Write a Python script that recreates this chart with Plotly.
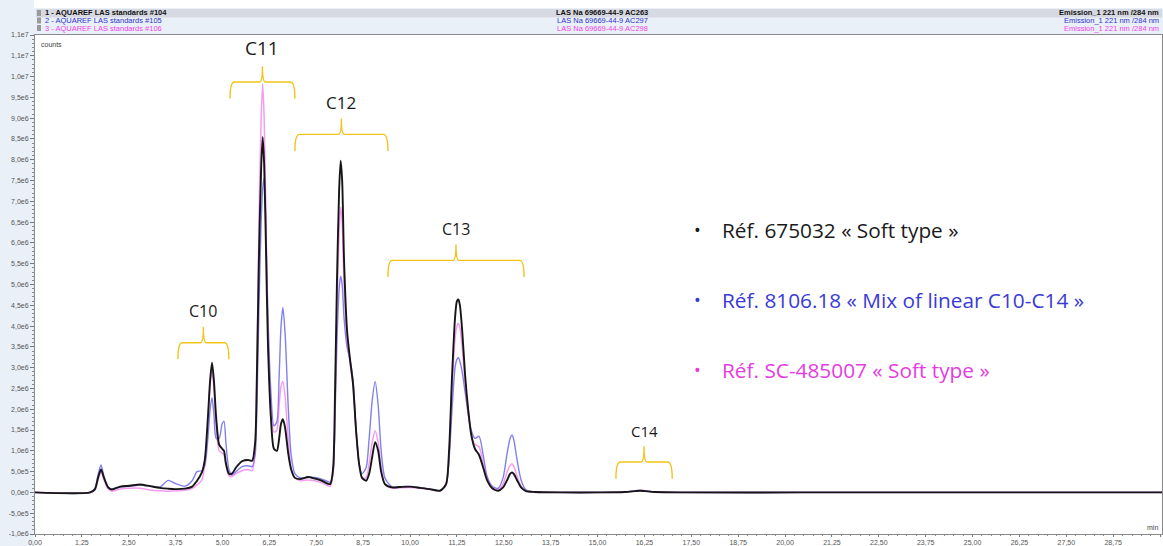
import numpy as np
import plotly.graph_objects as go

# Retention time (min) of the sampled chromatogram points
time_min = [0.00, 1.47, 1.60, 1.68, 1.76, 1.84, 1.95, 2.05, 2.27, 2.53, 2.80, 3.07, 3.33, 3.55, 3.73,
            4.00, 4.19, 4.32, 4.45, 4.53, 4.61, 4.67, 4.72, 4.77, 4.83, 4.91, 4.99, 5.04, 5.09, 5.17,
            5.25, 5.36, 5.52, 5.68, 5.79, 5.87, 5.92, 5.97, 6.03, 6.07, 6.11, 6.16, 6.21, 6.29, 6.37,
            6.45, 6.51, 6.56, 6.61, 6.67, 6.75, 6.83, 6.93, 7.07, 7.28, 7.47, 7.65, 7.87, 7.95, 8.00,
            8.05, 8.11, 8.15, 8.19, 8.24, 8.32, 8.40, 8.48, 8.56, 8.64, 8.72, 8.83, 8.91, 8.99, 9.07,
            9.15, 9.23, 9.33, 9.52, 9.73, 10.00, 10.27, 10.53, 10.80, 10.96, 11.04, 11.12, 11.20, 11.25,
            11.29, 11.33, 11.39, 11.47, 11.55, 11.63, 11.73, 11.84, 11.95, 12.05, 12.19, 12.35, 12.48,
            12.59, 12.67, 12.72, 12.77, 12.85, 12.96, 13.09, 13.33, 14.00, 15.07, 15.73, 16.00, 16.13,
            16.27, 16.53, 17.20, 20.40, 30.05]

# Signal in 1e6 counts, one list per injection
signal_104 = [0.00, 0.00, 0.08, 0.35, 0.55, 0.35, 0.12, 0.07, 0.14, 0.16, 0.19, 0.15, 0.11, 0.09, 0.08,
              0.09, 0.14, 0.28, 0.48, 0.80, 1.80, 2.70, 3.12, 2.70, 1.80, 1.15, 1.05, 1.00, 0.70, 0.45,
              0.45, 0.60, 0.75, 0.78, 0.76, 1.20, 3.00, 5.60, 7.80, 8.55, 7.90, 5.80, 3.60, 1.80, 1.05,
              1.00, 1.30, 1.65, 1.76, 1.55, 0.95, 0.55, 0.35, 0.32, 0.37, 0.33, 0.28, 0.20, 0.60, 2.40,
              5.00, 7.30, 7.98, 7.50, 5.60, 3.90, 3.20, 2.60, 1.50, 0.70, 0.35, 0.28, 0.45, 0.85, 1.21,
              1.00, 0.50, 0.20, 0.12, 0.13, 0.14, 0.11, 0.08, 0.04, 0.20, 1.00, 2.80, 4.20, 4.60,
              4.64, 4.50, 3.90, 2.80, 2.00, 1.40, 1.05, 0.90, 0.60, 0.30, 0.10, 0.04, 0.12,
              0.30, 0.45, 0.48, 0.44, 0.30, 0.12, 0.03, 0.01, 0.00, 0.00, 0.01, 0.03, 0.04,
              0.03, 0.01, 0.00, 0.00, 0.00]

signal_105 = [0.00, 0.00, 0.10, 0.42, 0.66, 0.38, 0.13, 0.08, 0.13, 0.15, 0.18, 0.15, 0.13, 0.29, 0.22,
              0.15, 0.28, 0.50, 0.52, 0.65, 1.30, 2.00, 2.28, 1.90, 1.30, 1.30, 1.65, 1.71, 1.20, 0.55,
              0.42, 0.50, 0.62, 0.64, 0.62, 0.90, 2.20, 4.40, 6.50, 7.30, 7.55, 6.20, 4.30, 2.40, 1.60,
              1.70, 2.80, 4.00, 4.45, 3.80, 2.10, 0.90, 0.45, 0.35, 0.36, 0.36, 0.32, 0.25, 0.50, 1.80,
              3.60, 4.90, 5.20, 5.00, 4.20, 3.50, 3.20, 2.70, 1.50, 0.70, 0.45, 0.60, 1.30, 2.20, 2.67,
              2.10, 1.00, 0.35, 0.13, 0.14, 0.14, 0.11, 0.08, 0.05, 0.18, 0.80, 2.00, 3.00, 3.20,
              3.24, 3.15, 2.90, 2.40, 1.90, 1.50, 1.30, 1.35, 0.90, 0.40, 0.15, 0.10, 0.35,
              0.95, 1.30, 1.38, 1.25, 0.80, 0.30, 0.06, 0.01, 0.00, 0.00, 0.01, 0.04, 0.05,
              0.04, 0.01, 0.00, 0.00, 0.00]

signal_106 = [0.00, 0.00, 0.06, 0.30, 0.50, 0.30, 0.08, 0.03, 0.08, 0.10, 0.10, 0.06, 0.04, 0.03, 0.04,
              0.05, 0.10, 0.18, 0.30, 0.70, 1.70, 2.60, 2.95, 2.50, 1.60, 1.00, 0.95, 0.90, 0.65, 0.40,
              0.38, 0.45, 0.52, 0.55, 0.52, 1.10, 3.20, 6.40, 9.00, 9.83, 9.00, 6.50, 3.90, 2.00, 1.45,
              1.50, 2.10, 2.55, 2.67, 2.30, 1.30, 0.60, 0.35, 0.28, 0.30, 0.28, 0.23, 0.15, 0.50, 2.00,
              4.30, 6.30, 6.86, 6.50, 5.00, 3.70, 3.10, 2.60, 1.50, 0.70, 0.35, 0.35, 0.70, 1.20, 1.48,
              1.20, 0.60, 0.20, 0.10, 0.11, 0.12, 0.10, 0.07, 0.04, 0.20, 0.90, 2.50, 3.70, 4.00,
              4.07, 3.95, 3.50, 2.60, 1.90, 1.40, 1.15, 1.10, 0.70, 0.35, 0.12, 0.06, 0.20,
              0.50, 0.65, 0.69, 0.62, 0.40, 0.15, 0.04, 0.01, 0.00, 0.00, 0.01, 0.04, 0.05,
              0.04, 0.01, 0.00, 0.00, 0.00]

injection_names = ["1 - AQUAREF LAS standards #104",
                   "2 - AQUAREF LAS standards #105",
                   "3 - AQUAREF LAS standards #106"]
injection_ids = ["LAS Na 69669-44-9 AC263",
                 "LAS Na 69669-44-9 AC297",
                 "LAS Na 69669-44-9 AC298"]
channel_name = "Emission_1 221 nm /284 nm"

reference_labels = ["Réf. 675032 « Soft type »",
                    "Réf. 8106.18 « Mix of linear C10-C14 »",
                    "Réf. SC-485007 « Soft type »"]

# Homologue groups marked with braces
homologue_labels = ["C10", "C11", "C12", "C13", "C14"]
brace_start = [3.81, 5.20, 6.93, 9.41, 15.49]
brace_end = [5.17, 6.93, 9.41, 13.04, 16.99]
brace_level = [3.60e6, 9.87e6, 8.61e6, 5.58e6, 0.73e6]
brace_font = [16, 19, 17, 16, 15]

# ---------------------------------------------------------------- layout geometry
W, H = 1163, 546
ML, MR, MT, MB = 35, 1, 35, 12
PW, PH = W - ML - MR, H - MT - MB


def px(x):
    return (x - ML) / PW


def py(y):
    return (H - MB - y) / PH


COL_104 = "#161616"
COL_105 = "rgba(70,70,225,0.68)"
COL_106 = "rgba(238,90,232,0.60)"
TXT_105 = "#3a3ad8"
TXT_106 = "#e43ce0"
BRACE = "#f2c31a"

t = np.array(time_min)
fig = go.Figure()
for vals, col, w, name in [(signal_105, COL_105, 1.4, injection_names[1]),
                           (signal_106, COL_106, 1.5, injection_names[2]),
                           (signal_104, COL_104, 1.9, injection_names[0])]:
    fig.add_trace(go.Scatter(x=t, y=np.array(vals) * 1e6, mode="lines", name=name,
                             line=dict(color=col, width=w, shape="spline", smoothing=0.7),
                             hoverinfo="skip"))

# y ticks every 5e5 in the instrument's comma notation
yvals = np.arange(-1.0e6, 1.1e7 + 1, 5e5)


def sci_label(v):
    if abs(v) < 1:
        return "0,0e0"
    e = int(np.floor(np.log10(abs(v))))
    m = v / 10 ** e
    return f"{m:.1f}e{e}".replace(".", ",")


ytext = [sci_label(v) for v in yvals]

xvals = np.arange(0, 30.01, 1.25)
xtext = [f"{v:.2f}".replace(".", ",") for v in xvals]

axis_font = dict(family="Liberation Sans, Arial, sans-serif", size=7, color="#555555")
fig.update_layout(
    width=W, height=H,
    margin=dict(l=ML, r=MR, t=MT, b=MB, pad=0, autoexpand=False),
    paper_bgcolor="white", plot_bgcolor="white",
    showlegend=False,
    xaxis=dict(range=[0, 30.05], tickvals=xvals, ticktext=xtext, ticks="outside", ticklen=2,
               tickcolor="#777777", tickfont=axis_font, showgrid=False, zeroline=False,
               showline=True, linecolor="#8a8a8a", linewidth=1, mirror=True, automargin=False,
               minor=dict(dtick=0.25, ticklen=1, ticks="outside", tickcolor="#888888")),
    yaxis=dict(range=[-1.0e6, 1.1e7], tickvals=yvals, ticktext=ytext, ticks="outside", ticklen=4,
               tickcolor="#777777", tickfont=axis_font, showgrid=False, zeroline=False,
               showline=True, linecolor="#8a8a8a", linewidth=1, mirror=True, automargin=False,
               minor=dict(dtick=1e5, ticklen=2, ticks="outside", tickcolor="#888888")),
)

shapes = []
# light panel behind the y labels and the run header
shapes.append(dict(type="rect", xref="paper", yref="paper", x0=px(0), x1=px(ML - 1),
                   y0=py(H), y1=py(0), fillcolor="#eaf0f8", line_width=0, layer="below"))
shapes.append(dict(type="rect", xref="paper", yref="paper", x0=px(0), x1=px(W),
                   y0=py(MT), y1=py(8), fillcolor="#eaf0f8", line_width=0, layer="below"))
shapes.append(dict(type="rect", xref="paper", yref="paper", x0=px(36), x1=px(1162),
                   y0=py(17.5), y1=py(9), fillcolor="#d7d9e2", line_width=0, layer="below"))
for k in range(3):
    yc = 13 + 7.5 * k
    shapes.append(dict(type="rect", xref="paper", yref="paper", x0=px(37), x1=px(41),
                       y0=py(yc + 3), y1=py(yc - 3), fillcolor="#9a9a9a", line_width=0))

# braces over the homologue groups
for x0, x1, yl in zip(brace_start, brace_end, brace_level):
    xm = (x0 + x1) / 2
    drop, rise = 0.40e6, 0.38e6
    path = (f"M {x0},{yl - drop} Q {x0},{yl} {x0 + 0.12},{yl} "
            f"L {xm - 0.08},{yl} Q {xm},{yl} {xm},{yl + rise} "
            f"Q {xm},{yl} {xm + 0.08},{yl} L {x1 - 0.12},{yl} Q {x1},{yl} {x1},{yl - drop}")
    shapes.append(dict(type="path", xref="x", yref="y", path=path,
                       line=dict(color=BRACE, width=1.4)))
fig.update_layout(shapes=shapes)

ann = []
for lab, x0, x1, yl, fs in zip(homologue_labels, brace_start, brace_end, brace_level, brace_font):
    ann.append(dict(x=(x0 + x1) / 2, y=yl + 0.38e6, xref="x", yref="y", text=lab, showarrow=False,
                    yanchor="bottom", yshift=3,
                    font=dict(family="Open Sans, Noto Sans, sans-serif", size=fs, color="#1a1a1a")))

ref_colors = ["#1a1a1a", TXT_105, TXT_106]
ref_y = [230, 300, 370]
for lab, col, yy in zip(reference_labels, ref_colors, ref_y):
    ann.append(dict(x=px(692), y=py(yy), xref="paper", yref="paper", xanchor="left", yanchor="middle",
                    text="•", showarrow=False,
                    font=dict(family="Open Sans, Noto Sans, sans-serif", size=18, color=col)))
    ann.append(dict(x=px(720), y=py(yy), xref="paper", yref="paper", xanchor="left", yanchor="middle",
                    text=lab, showarrow=False,
                    font=dict(family="Open Sans, Noto Sans, sans-serif", size=20.8, color=col)))

head_cols = ["#111111", "#3030cc", "#ee44ee"]
for k in range(3):
    yc = 13 + 7.5 * k
    bold = k == 0
    fam = "Liberation Sans, Arial, sans-serif"
    for txt, xx, anchor in [(injection_names[k], 43, "left"), (injection_ids[k], 602, "center"),
                            (channel_name, 1161, "right")]:
        ann.append(dict(x=px(xx), y=py(yc), xref="paper", yref="paper", xanchor=anchor,
                        yanchor="middle", showarrow=False,
                        text=f"<b>{txt}</b>" if bold else txt,
                        font=dict(family=fam, size=7.5, color=head_cols[k])))

ann.append(dict(x=px(39), y=py(44), xref="paper", yref="paper", xanchor="left", yanchor="middle",
                text="counts", showarrow=False, font=dict(family="Liberation Sans, Arial", size=7,
                                                          color="#444444")))
ann.append(dict(x=px(1160), y=py(527), xref="paper", yref="paper", xanchor="right", yanchor="middle",
                text="min", showarrow=False, font=dict(family="Liberation Sans, Arial", size=7,
                                                       color="#444444")))
fig.update_layout(annotations=ann)

fig.write_html("out.html")
